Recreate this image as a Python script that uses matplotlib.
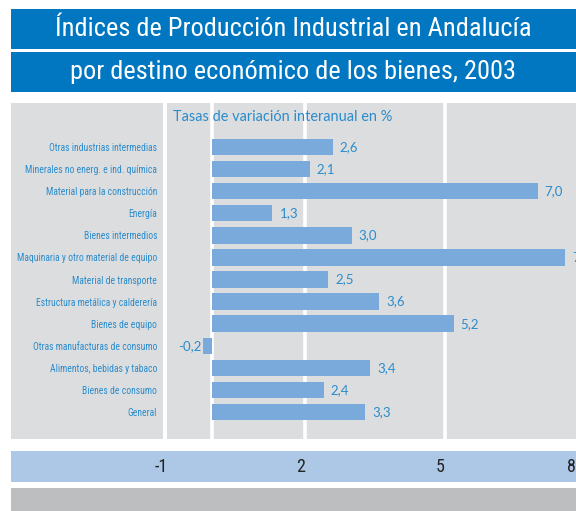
import matplotlib
matplotlib.use("Agg")
import matplotlib.pyplot as plt
from matplotlib.patches import Rectangle
from matplotlib import font_manager

# data
categories = [
    "Otras industrias intermedias",
    "Minerales no energ. e ind. química",
    "Material para la construcción",
    "Energía",
    "Bienes intermedios",
    "Maquinaria y otro material de equipo",
    "Material de transporte",
    "Estructura metálica y calderería",
    "Bienes de equipo",
    "Otras manufacturas de consumo",
    "Alimentos, bebidas y tabaco",
    "Bienes de consumo",
    "General",
]
values = [2.6, 2.1, 7.0, 1.3, 3.0, 7.6, 2.5, 3.6, 5.2, -0.2, 3.4, 2.4, 3.3]
grid_values = [0, 2, 5]
tick_values = [-1, 2, 5, 8]
title_1 = "Índices de Producción Industrial en Andalucía"
title_2 = "por destino económico de los bienes, 2003"
subtitle = "Tasas de variación interanual en %"

# colours
BLUE_DARK = "#0077c0"
BAR = "#7aaadb"
TEXT_BLUE = "#2a8ccc"
PANEL = "#dcdddf"
STRIP = "#adc8e6"
FOOT = "#bdbec0"

# pick the narrowest family we can find
names = {f.name for f in font_manager.fontManager.ttflist}
narrow_pref = ["Liberation Sans Narrow", "Roboto Condensed", "DejaVu Sans Condensed",
               "Noto Sans Condensed", "Open Sans Condensed"]
extra = sorted(n for n in names if ("Narrow" in n or "Condensed" in n)
               and "Bold" not in n and "Light" not in n and "Black" not in n)
NARROW = next((n for n in narrow_pref + extra if n in names), "Roboto" if "Roboto" in names else "DejaVu Sans")
PLAIN = "Lato" if "Lato" in names else "DejaVu Sans"

W, H = 576, 511
fig = plt.figure(figsize=(W / 100, H / 100), dpi=100)


def px_rect(x0, y0, x1, y1):
    return [x0 / W, 1 - y1 / H, (x1 - x0) / W, (y1 - y0) / H]


def add_box(x0, y0, x1, y1, color):
    r = Rectangle((x0 / W, 1 - y1 / H), (x1 - x0) / W, (y1 - y0) / H,
                  transform=fig.transFigure, facecolor=color, edgecolor="none", zorder=-1)
    fig.add_artist(r)


# title boxes
add_box(11, 9, 576, 49, BLUE_DARK)
add_box(11, 52, 576, 92, BLUE_DARK)
t1 = fig.text((11 + 576) / 2 / W, 1 - 29.5 / H, title_1, color="white", family=NARROW,
              fontsize=17.5, ha="center", va="center")
t2 = fig.text((11 + 576) / 2 / W, 1 - 72.5 / H, title_2, color="white", family=NARROW,
              fontsize=17.5, ha="center", va="center")

# label panel, bottom strip and footer
add_box(11, 103, 163, 439, PANEL)
add_box(11, 451, 576, 482, STRIP)
add_box(11, 488, 576, 511, FOOT)

# main chart
zero_px, unit_px = 212, 46.5
ax = fig.add_axes(px_rect(167, 103, 576, 439))
ax.set_facecolor(PANEL)
for s in ax.spines.values():
    s.set_visible(False)
ax.set_xlim((167 - zero_px) / unit_px, (576 - zero_px) / unit_px)

pos = list(range(len(categories)))
ax.set_ylim(len(categories) - 1 + 27 / 22.08, -44 / 22.08)

for g in grid_values:
    ax.axvline(g, color="white", lw=2.6, zorder=1)

ax.barh(pos, values, height=0.74, color=BAR, zorder=2)

ax.set_xticks([])
ax.set_yticks(pos, categories)
ax.tick_params(axis="y", length=0, pad=7.2, labelcolor=TEXT_BLUE)
for lab in ax.get_yticklabels():
    lab.set_family(NARROW)
    lab.set_fontsize(9)

for p, v in zip(pos, values):
    txt = f"{v:.1f}".replace(".", ",")
    if v >= 0:
        ax.annotate(txt, (v, p), xytext=(5, 0), textcoords="offset points",
                    ha="left", va="center", color=TEXT_BLUE, fontsize=9.5, family=PLAIN)
    else:
        ax.annotate(txt, (v, p), xytext=(-1, 0), textcoords="offset points",
                    ha="right", va="center", color=TEXT_BLUE, fontsize=9.5, family=PLAIN)

sub = ax.text(6 / 409, 1 - 14 / 336, subtitle, transform=ax.transAxes, ha="left", va="center",
              color=TEXT_BLUE, fontsize=10, family=PLAIN)

# axis labels in the strip, just left of their gridline and kept inside the figure
tick_texts = []
for t in tick_values:
    xp = min(ax.transData.transform((t, 0))[0] - 4, W - 5)
    tick_texts.append(fig.text(xp / W, 1 - 467 / H, str(t), ha="center", va="center",
                               color="#222222", family=NARROW, fontsize=13))

# scale texts so their widths match the reference
fig.canvas.draw()
rend = fig.canvas.get_renderer()


def fit(texts, target_px, cap):
    w = max(t.get_window_extent(renderer=rend).width for t in texts)
    size = min(texts[0].get_fontsize() * target_px / w, cap)
    for t in texts:
        t.set_fontsize(size)


fit([t1], 495, 19)
fit([t2], 457, 19)
fit(ax.get_yticklabels(), 141, 10)
fit([sub], 219, 11)

fig.savefig("out.png", dpi=100)
